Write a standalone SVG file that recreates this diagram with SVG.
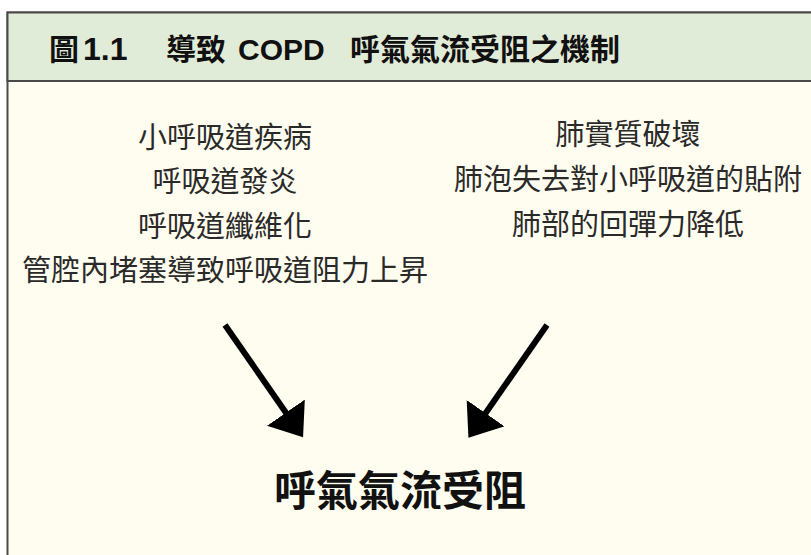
<svg xmlns="http://www.w3.org/2000/svg" width="811" height="555" viewBox="0 0 811 555">
<style>
.title{font-family:"Liberation Sans","Noto Sans CJK TC",sans-serif;font-weight:bold;font-size:30px;fill:#111}
.body{font-family:"Noto Sans CJK TC","Noto Sans CJK SC",sans-serif;font-size:29px;fill:#2a2a2a;text-anchor:middle}
.result{font-family:"Noto Sans CJK TC","Noto Sans CJK SC",sans-serif;font-weight:bold;font-size:42px;fill:#111;text-anchor:middle}
.conn{stroke:#000;stroke-width:6;fill:none;marker-end:url(#ah)}
</style>
<defs>
<marker id="ah" markerUnits="userSpaceOnUse" viewBox="0 0 30 46" markerWidth="30" markerHeight="46" refX="1" refY="23" orient="auto">
<path d="M0,0 L30,23 L0,46 Z" fill="#000"/>
</marker>
</defs>
<rect x="0" y="0" width="811" height="555" fill="#ffffff"/>
<g id="frame">
<rect x="7.5" y="12.5" width="820" height="560" fill="#fffdef" stroke="#4a4a4a" stroke-width="2"/>
<rect x="7.5" y="12.5" width="820" height="68.5" fill="#e1ecd8" stroke="#4a4a4a" stroke-width="2"/>
</g>
<g id="title">
<text class="title" y="60"><tspan x="49">圖</tspan><tspan x="83" font-size="32">1.1</tspan><tspan x="166">導致</tspan><tspan x="238">COPD</tspan><tspan x="350">呼氣氣流受阻之機制</tspan></text>
</g>
<g id="airway">
<text class="body" x="225" y="147.5">小呼吸道疾病</text>
<text class="body" x="225" y="192">呼吸道發炎</text>
<text class="body" x="225" y="236.5">呼吸道纖維化</text>
<text class="body" x="225" y="281">管腔內堵塞導致呼吸道阻力上昇</text>
</g>
<g id="parenchyma">
<text class="body" x="628" y="145">肺實質破壞</text>
<text class="body" x="628" y="190">肺泡失去對小呼吸道的貼附</text>
<text class="body" x="628" y="235">肺部的回彈力降低</text>
</g>
<g id="connectors">
<path class="conn" d="M225,325 L286.5,413.5"/>
<path class="conn" d="M547,325 L485,414"/>
</g>
<g id="result">
<text class="result" x="400" y="506">呼氣氣流受阻</text>
</g>
</svg>
